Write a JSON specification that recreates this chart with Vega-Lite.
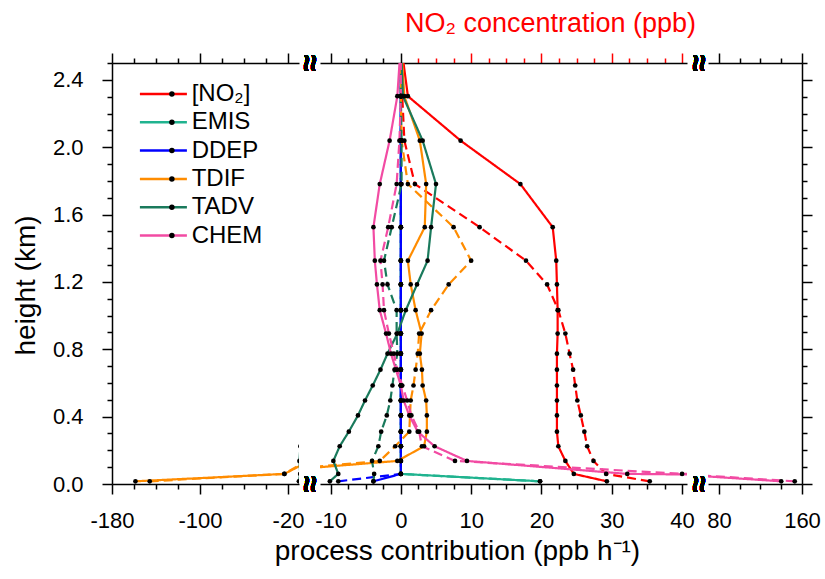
{
"$schema": "https://vega.github.io/schema/vega-lite/v6.json",
"background": "white",
"padding": {"left": 12, "top": 9, "right": 5, "bottom": 5},
"bounds": "flush",
"spacing": 21,
"data": {"values": [
{"p":"[NO₂]","c":"a","h":0.016,"x":29.3},{"p":"[NO₂]","c":"a","h":0.06,"x":24.6},{"p":"[NO₂]","c":"a","h":0.137,"x":23.4},{"p":"[NO₂]","c":"a","h":0.224,"x":22.4},{"p":"[NO₂]","c":"a","h":0.311,"x":22.2},{"p":"[NO₂]","c":"a","h":0.407,"x":22.2},{"p":"[NO₂]","c":"a","h":0.496,"x":22.2},{"p":"[NO₂]","c":"a","h":0.585,"x":22.2},{"p":"[NO₂]","c":"a","h":0.679,"x":22.2},{"p":"[NO₂]","c":"a","h":0.774,"x":22.2},{"p":"[NO₂]","c":"a","h":0.893,"x":22.3},{"p":"[NO₂]","c":"a","h":1.032,"x":22.3},{"p":"[NO₂]","c":"a","h":1.185,"x":22.2},{"p":"[NO₂]","c":"a","h":1.326,"x":22.1},{"p":"[NO₂]","c":"a","h":1.525,"x":21.6},{"p":"[NO₂]","c":"a","h":1.781,"x":17.0},{"p":"[NO₂]","c":"a","h":2.039,"x":8.5},{"p":"[NO₂]","c":"a","h":2.303,"x":1.0},{"p":"[NO₂]","c":"a","h":2.62,"x":0},
{"p":"[NO₂]","c":"b","h":0.016,"x":35.4},{"p":"[NO₂]","c":"b","h":0.06,"x":29.2},{"p":"[NO₂]","c":"b","h":0.137,"x":27.4},{"p":"[NO₂]","c":"b","h":0.224,"x":26.5},{"p":"[NO₂]","c":"b","h":0.311,"x":26.1},{"p":"[NO₂]","c":"b","h":0.407,"x":25.6},{"p":"[NO₂]","c":"b","h":0.496,"x":25.1},{"p":"[NO₂]","c":"b","h":0.585,"x":24.8},{"p":"[NO₂]","c":"b","h":0.679,"x":24.5},{"p":"[NO₂]","c":"b","h":0.774,"x":24.0},{"p":"[NO₂]","c":"b","h":0.893,"x":23.4},{"p":"[NO₂]","c":"b","h":1.032,"x":22.4},{"p":"[NO₂]","c":"b","h":1.185,"x":20.8},{"p":"[NO₂]","c":"b","h":1.326,"x":17.8},{"p":"[NO₂]","c":"b","h":1.525,"x":11.2},{"p":"[NO₂]","c":"b","h":1.781,"x":2.0},{"p":"[NO₂]","c":"b","h":2.039,"x":0.5},{"p":"[NO₂]","c":"b","h":2.303,"x":0.2},{"p":"[NO₂]","c":"b","h":2.62,"x":0},
{"p":"EMIS","c":"a","h":0.016,"x":19.8},{"p":"EMIS","c":"a","h":0.06,"x":0},{"p":"EMIS","c":"a","h":0.137,"x":0},{"p":"EMIS","c":"a","h":0.224,"x":0},{"p":"EMIS","c":"a","h":0.311,"x":0},{"p":"EMIS","c":"a","h":0.407,"x":0},{"p":"EMIS","c":"a","h":0.496,"x":0},{"p":"EMIS","c":"a","h":0.585,"x":0},{"p":"EMIS","c":"a","h":0.679,"x":0},{"p":"EMIS","c":"a","h":0.774,"x":0},{"p":"EMIS","c":"a","h":0.893,"x":0},{"p":"EMIS","c":"a","h":1.032,"x":0},{"p":"EMIS","c":"a","h":1.185,"x":0},{"p":"EMIS","c":"a","h":1.326,"x":0},{"p":"EMIS","c":"a","h":1.525,"x":0},{"p":"EMIS","c":"a","h":1.781,"x":0},{"p":"EMIS","c":"a","h":2.039,"x":0},{"p":"EMIS","c":"a","h":2.303,"x":0},{"p":"EMIS","c":"a","h":2.62,"x":0},
{"p":"EMIS","c":"b","h":0.016,"x":19.8},{"p":"EMIS","c":"b","h":0.06,"x":0},{"p":"EMIS","c":"b","h":0.137,"x":0},{"p":"EMIS","c":"b","h":0.224,"x":0},{"p":"EMIS","c":"b","h":0.311,"x":0},{"p":"EMIS","c":"b","h":0.407,"x":0},{"p":"EMIS","c":"b","h":0.496,"x":0},{"p":"EMIS","c":"b","h":0.585,"x":0},{"p":"EMIS","c":"b","h":0.679,"x":0},{"p":"EMIS","c":"b","h":0.774,"x":0},{"p":"EMIS","c":"b","h":0.893,"x":0},{"p":"EMIS","c":"b","h":1.032,"x":0},{"p":"EMIS","c":"b","h":1.185,"x":0},{"p":"EMIS","c":"b","h":1.326,"x":0},{"p":"EMIS","c":"b","h":1.525,"x":0},{"p":"EMIS","c":"b","h":1.781,"x":0},{"p":"EMIS","c":"b","h":2.039,"x":0},{"p":"EMIS","c":"b","h":2.303,"x":0},{"p":"EMIS","c":"b","h":2.62,"x":0},
{"p":"DDEP","c":"a","h":0.016,"x":-3.9},{"p":"DDEP","c":"a","h":0.06,"x":0},{"p":"DDEP","c":"a","h":0.137,"x":0},{"p":"DDEP","c":"a","h":0.224,"x":0},{"p":"DDEP","c":"a","h":0.311,"x":0},{"p":"DDEP","c":"a","h":0.407,"x":0},{"p":"DDEP","c":"a","h":0.496,"x":0},{"p":"DDEP","c":"a","h":0.585,"x":0},{"p":"DDEP","c":"a","h":0.679,"x":0},{"p":"DDEP","c":"a","h":0.774,"x":0},{"p":"DDEP","c":"a","h":0.893,"x":0},{"p":"DDEP","c":"a","h":1.032,"x":0},{"p":"DDEP","c":"a","h":1.185,"x":0},{"p":"DDEP","c":"a","h":1.326,"x":0},{"p":"DDEP","c":"a","h":1.525,"x":0},{"p":"DDEP","c":"a","h":1.781,"x":0},{"p":"DDEP","c":"a","h":2.039,"x":0},{"p":"DDEP","c":"a","h":2.303,"x":0},{"p":"DDEP","c":"a","h":2.62,"x":0},
{"p":"DDEP","c":"b","h":0.016,"x":-8.9},{"p":"DDEP","c":"b","h":0.06,"x":0},{"p":"DDEP","c":"b","h":0.137,"x":0},{"p":"DDEP","c":"b","h":0.224,"x":0},{"p":"DDEP","c":"b","h":0.311,"x":0},{"p":"DDEP","c":"b","h":0.407,"x":0},{"p":"DDEP","c":"b","h":0.496,"x":0},{"p":"DDEP","c":"b","h":0.585,"x":0},{"p":"DDEP","c":"b","h":0.679,"x":0},{"p":"DDEP","c":"b","h":0.774,"x":0},{"p":"DDEP","c":"b","h":0.893,"x":0},{"p":"DDEP","c":"b","h":1.032,"x":0},{"p":"DDEP","c":"b","h":1.185,"x":0},{"p":"DDEP","c":"b","h":1.326,"x":0},{"p":"DDEP","c":"b","h":1.525,"x":0},{"p":"DDEP","c":"b","h":1.781,"x":0},{"p":"DDEP","c":"b","h":2.039,"x":0},{"p":"DDEP","c":"b","h":2.303,"x":0},{"p":"DDEP","c":"b","h":2.62,"x":0},
{"p":"TDIF","c":"a","h":0.016,"x":-158.7},{"p":"TDIF","c":"a","h":0.06,"x":-23.3},{"p":"TDIF","c":"a","h":0.137,"x":-0.5},{"p":"TDIF","c":"a","h":0.224,"x":3.3},{"p":"TDIF","c":"a","h":0.311,"x":3.7},{"p":"TDIF","c":"a","h":0.407,"x":3.7},{"p":"TDIF","c":"a","h":0.496,"x":3.6},{"p":"TDIF","c":"a","h":0.585,"x":3.1},{"p":"TDIF","c":"a","h":0.679,"x":3.0},{"p":"TDIF","c":"a","h":0.774,"x":2.7},{"p":"TDIF","c":"a","h":0.893,"x":2.95},{"p":"TDIF","c":"a","h":1.032,"x":2.1},{"p":"TDIF","c":"a","h":1.185,"x":1.4},{"p":"TDIF","c":"a","h":1.326,"x":1.0},{"p":"TDIF","c":"a","h":1.525,"x":3.4},{"p":"TDIF","c":"a","h":1.781,"x":3.6},{"p":"TDIF","c":"a","h":2.039,"x":2.7},{"p":"TDIF","c":"a","h":2.303,"x":0.5},{"p":"TDIF","c":"a","h":2.62,"x":0},
{"p":"TDIF","c":"b","h":0.016,"x":-145.7},{"p":"TDIF","c":"b","h":0.06,"x":-23.3},{"p":"TDIF","c":"b","h":0.137,"x":-3.0},{"p":"TDIF","c":"b","h":0.224,"x":-0.8},{"p":"TDIF","c":"b","h":0.311,"x":1.2},{"p":"TDIF","c":"b","h":0.407,"x":1.3},{"p":"TDIF","c":"b","h":0.496,"x":1.4},{"p":"TDIF","c":"b","h":0.585,"x":1.8},{"p":"TDIF","c":"b","h":0.679,"x":2.1},{"p":"TDIF","c":"b","h":0.774,"x":2.4},{"p":"TDIF","c":"b","h":0.893,"x":2.6},{"p":"TDIF","c":"b","h":1.032,"x":4.3},{"p":"TDIF","c":"b","h":1.185,"x":6.8},{"p":"TDIF","c":"b","h":1.326,"x":10.0},{"p":"TDIF","c":"b","h":1.525,"x":7.5},{"p":"TDIF","c":"b","h":1.781,"x":1.0},{"p":"TDIF","c":"b","h":2.039,"x":0.1},{"p":"TDIF","c":"b","h":2.303,"x":0},{"p":"TDIF","c":"b","h":2.62,"x":0},
{"p":"TADV","c":"a","h":0.016,"x":-10.1},{"p":"TADV","c":"a","h":0.06,"x":-8.9},{"p":"TADV","c":"a","h":0.137,"x":-9.6},{"p":"TADV","c":"a","h":0.224,"x":-8.7},{"p":"TADV","c":"a","h":0.311,"x":-7.4},{"p":"TADV","c":"a","h":0.407,"x":-6.1},{"p":"TADV","c":"a","h":0.496,"x":-5.1},{"p":"TADV","c":"a","h":0.585,"x":-4.0},{"p":"TADV","c":"a","h":0.679,"x":-2.9},{"p":"TADV","c":"a","h":0.774,"x":-1.9},{"p":"TADV","c":"a","h":0.893,"x":-0.5},{"p":"TADV","c":"a","h":1.032,"x":0.7},{"p":"TADV","c":"a","h":1.185,"x":2.3},{"p":"TADV","c":"a","h":1.326,"x":3.8},{"p":"TADV","c":"a","h":1.525,"x":4.3},{"p":"TADV","c":"a","h":1.781,"x":5.0},{"p":"TADV","c":"a","h":2.039,"x":3.1},{"p":"TADV","c":"a","h":2.303,"x":0.3},{"p":"TADV","c":"a","h":2.62,"x":0},
{"p":"TADV","c":"b","h":0.016,"x":-3.9},{"p":"TADV","c":"b","h":0.06,"x":-3.8},{"p":"TADV","c":"b","h":0.137,"x":-4.1},{"p":"TADV","c":"b","h":0.224,"x":-3.2},{"p":"TADV","c":"b","h":0.311,"x":-2.8},{"p":"TADV","c":"b","h":0.407,"x":-2.0},{"p":"TADV","c":"b","h":0.496,"x":-1.5},{"p":"TADV","c":"b","h":0.585,"x":-1.2},{"p":"TADV","c":"b","h":0.679,"x":-0.9},{"p":"TADV","c":"b","h":0.774,"x":-0.5},{"p":"TADV","c":"b","h":0.893,"x":-0.6},{"p":"TADV","c":"b","h":1.032,"x":-0.6},{"p":"TADV","c":"b","h":1.185,"x":-1.9},{"p":"TADV","c":"b","h":1.326,"x":-2.4},{"p":"TADV","c":"b","h":1.525,"x":-1.3},{"p":"TADV","c":"b","h":1.781,"x":0.1},{"p":"TADV","c":"b","h":2.039,"x":0.1},{"p":"TADV","c":"b","h":2.303,"x":0},{"p":"TADV","c":"b","h":2.62,"x":0},
{"p":"CHEM","c":"a","h":0.016,"x":140},{"p":"CHEM","c":"a","h":0.06,"x":32.2},{"p":"CHEM","c":"a","h":0.137,"x":9.4},{"p":"CHEM","c":"a","h":0.224,"x":4.8},{"p":"CHEM","c":"a","h":0.311,"x":2.4},{"p":"CHEM","c":"a","h":0.407,"x":1.2},{"p":"CHEM","c":"a","h":0.496,"x":0.4},{"p":"CHEM","c":"a","h":0.585,"x":0.0},{"p":"CHEM","c":"a","h":0.679,"x":-0.7},{"p":"CHEM","c":"a","h":0.774,"x":-1.4},{"p":"CHEM","c":"a","h":0.893,"x":-2.1},{"p":"CHEM","c":"a","h":1.032,"x":-3.0},{"p":"CHEM","c":"a","h":1.185,"x":-3.4},{"p":"CHEM","c":"a","h":1.326,"x":-3.7},{"p":"CHEM","c":"a","h":1.525,"x":-3.9},{"p":"CHEM","c":"a","h":1.781,"x":-3.0},{"p":"CHEM","c":"a","h":2.039,"x":-1.6},{"p":"CHEM","c":"a","h":2.303,"x":-0.5},{"p":"CHEM","c":"a","h":2.62,"x":0},
{"p":"CHEM","c":"b","h":0.016,"x":153},{"p":"CHEM","c":"b","h":0.06,"x":40},{"p":"CHEM","c":"b","h":0.137,"x":7.7},{"p":"CHEM","c":"b","h":0.224,"x":3.0},{"p":"CHEM","c":"b","h":0.311,"x":2.6},{"p":"CHEM","c":"b","h":0.407,"x":1.5},{"p":"CHEM","c":"b","h":0.496,"x":0.9},{"p":"CHEM","c":"b","h":0.585,"x":0.2},{"p":"CHEM","c":"b","h":0.679,"x":-0.5},{"p":"CHEM","c":"b","h":0.774,"x":-1.0},{"p":"CHEM","c":"b","h":0.893,"x":-1.7},{"p":"CHEM","c":"b","h":1.032,"x":-2.4},{"p":"CHEM","c":"b","h":1.185,"x":-2.6},{"p":"CHEM","c":"b","h":1.326,"x":-2.9},{"p":"CHEM","c":"b","h":1.525,"x":-1.8},{"p":"CHEM","c":"b","h":1.781,"x":-0.6},{"p":"CHEM","c":"b","h":2.039,"x":-0.2},{"p":"CHEM","c":"b","h":2.303,"x":0},{"p":"CHEM","c":"b","h":2.62,"x":0}
]},
"config": {
  "font": "Liberation Sans",
  "view": {"stroke": null},
  "axis": {"domainColor": "black", "domainWidth": 1.5, "tickColor": "black", "tickWidth": 1.5, "labelFont": "Liberation Sans", "labelFontSize": 22, "labelColor": "black", "titleFont": "Liberation Sans", "titleFontSize": 28, "titleFontWeight": "normal", "titleColor": "black", "grid": false, "labelFlush": false, "labelOverlap": false},
  "legend": {"orient": "none", "legendX": 39.4, "legendY": 19, "title": null, "labelFont": "Liberation Sans", "labelFontSize": 24, "labelColor": "black", "rowPadding": 4.3, "padding": 0}
},
"hconcat": [
{
  "width": 187, "height": 421,
  "layer": [
    {"mark": {"type": "line", "clip": true, "strokeWidth": 2.2},
     "encoding": {
       "x": {"field": "x", "type": "quantitative", "scale": {"domain": [-180, -10], "nice": false, "zero": false},
             "axis": {"orient": "bottom", "title": null, "values": [-180,-160,-140,-120,-100,-80,-60,-40,-20],
                      "tickSize": {"condition": {"test": "datum.value==-180||datum.value==-100||datum.value==-20", "value": 10}, "value": 5},
                      "labelExpr": "(datum.value==-180||datum.value==-100||datum.value==-20)?(''+datum.value):''", "labelPadding": 16}},
       "y": {"field": "h", "type": "quantitative", "scale": {"domain": [0, 2.5], "nice": false},
             "axis": {"orient": "left", "title": "height (km)", "titlePadding": 12, "titleY": 222,
                      "values": [0,0.1,0.2,0.3,0.4,0.5,0.6,0.7,0.8,0.9,1.0,1.1,1.2,1.3,1.4,1.5,1.6,1.7,1.8,1.9,2.0,2.1,2.2,2.3,2.4,2.5],
                      "tickSize": {"condition": {"test": "round(datum.value*10)%4==0", "value": 10}, "value": 5},
                      "labelExpr": "round(datum.value*10)%4==0?format(datum.value,'.1f'):''", "labelPadding": 19}},
       "stroke": {"field": "p", "type": "nominal",
                  "scale": {"domain": ["[NO₂]","EMIS","DDEP","TDIF","TADV","CHEM"], "range": ["#ff0000","#20b38f","#0000ff","#ff8c00","#1a7a5c","#f24ba3"]},
                  "legend": {"symbolType": "M-2.35,0H2.35", "symbolSize": 400, "symbolStrokeWidth": 2.5, "symbolFillColor": "transparent", "labelOffset": 16.3}},
       "strokeDash": {"field": "c", "type": "nominal", "scale": {"domain": ["a","b"], "range": [[1,0],[9,5]]}, "legend": null},
       "order": {"field": "h", "type": "quantitative"}
     }},
    {"mark": {"type": "circle", "clip": true, "size": 22, "opacity": 1},
     "encoding": {
       "x": {"field": "x", "type": "quantitative",
             "axis": {"orient": "top", "title": null, "labels": false, "values": [-180,-160,-140,-120,-100,-80,-60,-40,-20],
                      "tickSize": {"condition": {"test": "datum.value==-180||datum.value==-100||datum.value==-20", "value": 10}, "value": 5}}},
       "y": {"field": "h", "type": "quantitative", "axis": null},
       "fill": {"field": "p", "type": "nominal", "sort": ["[NO₂]","EMIS","DDEP","TDIF","TADV","CHEM"],
                "scale": {"range": ["black","black","black","black","black","black"]},
                "legend": {"symbolType": "circle", "symbolSize": 30, "symbolStrokeWidth": 0, "symbolOffset": 8.5, "labelOpacity": 0}}
     }},
    {"mark": {"type": "text", "text": "≈", "font": "Liberation Sans", "fontSize": 30, "fontWeight": "bold", "angle": 90, "dx": 0, "dy": -10, "align": "center", "baseline": "middle"},
     "encoding": {"x": {"datum": -10, "type": "quantitative", "axis": null}, "y": {"datum": 0, "type": "quantitative", "axis": null}}},
    {"mark": {"type": "text", "text": "≈", "font": "Liberation Sans", "fontSize": 30, "fontWeight": "bold", "angle": 90, "dx": 0, "dy": -10, "align": "center", "baseline": "middle"},
     "encoding": {"x": {"datum": -10, "type": "quantitative", "axis": null}, "y": {"datum": 2.5, "type": "quantitative", "axis": null}}}
  ],
  "resolve": {"axis": {"x": "independent", "y": "independent"}}
},
{
  "width": 367, "height": 421,
  "layer": [
    {"mark": {"type": "line", "clip": true, "strokeWidth": 2.2},
     "encoding": {
       "x": {"field": "x", "type": "quantitative", "scale": {"domain": [-11.5, 40.7], "nice": false, "zero": false},
             "axis": {"orient": "bottom", "title": "process contribution (ppb h⁻¹)", "titleX": 137, "titlePadding": 6,
                      "values": [-10,-7.5,-5,-2.5,0,2.5,5,7.5,10,12.5,15,17.5,20,22.5,25,27.5,30,32.5,35,37.5,40],
                      "tickSize": {"condition": {"test": "datum.value%10==0", "value": 10}, "value": 5},
                      "labelExpr": "datum.value%10==0?(''+datum.value):''", "labelPadding": 16}},
       "y": {"field": "h", "type": "quantitative", "scale": {"domain": [0, 2.5], "nice": false}, "axis": null},
       "stroke": {"field": "p", "type": "nominal", "legend": null},
       "strokeDash": {"field": "c", "type": "nominal", "legend": null},
       "order": {"field": "h", "type": "quantitative"}
     }},
    {"mark": {"type": "circle", "clip": true, "size": 22, "opacity": 1},
     "encoding": {
       "x": {"field": "x", "type": "quantitative",
             "axis": {"orient": "top", "title": "NO₂ concentration (ppb)", "titleColor": "#ff0000", "titleFontSize": 27, "titleX": 230, "titlePadding": 15, "labels": false,
                      "values": [-10,-7.5,-5,-2.5,0,2.5,5,7.5,10,12.5,15,17.5,20,22.5,25,27.5,30,32.5,35,37.5,40],
                      "tickSize": {"condition": {"test": "datum.value%10==0", "value": 10}, "value": 5},
                      "tickColor": {"condition": {"test": "datum.value>0", "value": "#ff0000"}, "value": "black"}}},
       "y": {"field": "h", "type": "quantitative", "axis": null},
       "fill": {"field": "p", "type": "nominal", "legend": null}
     }},
    {"mark": {"type": "text", "text": "≈", "font": "Liberation Sans", "fontSize": 30, "fontWeight": "bold", "angle": 90, "dx": 0, "dy": -11, "align": "center", "baseline": "middle"},
     "encoding": {"x": {"datum": 40.7, "type": "quantitative", "axis": null}, "y": {"datum": 0, "type": "quantitative", "axis": null}}},
    {"mark": {"type": "text", "text": "≈", "font": "Liberation Sans", "fontSize": 30, "fontWeight": "bold", "angle": 90, "dx": 0, "dy": -11, "align": "center", "baseline": "middle"},
     "encoding": {"x": {"datum": 40.7, "type": "quantitative", "axis": null}, "y": {"datum": 2.5, "type": "quantitative", "axis": null}}}
  ],
  "resolve": {"axis": {"x": "independent", "y": "independent"}}
},
{
  "width": 94, "height": 421,
  "layer": [
    {"mark": {"type": "line", "clip": true, "strokeWidth": 2.2},
     "encoding": {
       "x": {"field": "x", "type": "quantitative", "scale": {"domain": [69.5, 160], "nice": false, "zero": false},
             "axis": {"orient": "bottom", "title": null, "values": [80,100,120,140,160],
                      "tickSize": {"condition": {"test": "datum.value==80||datum.value==160", "value": 10}, "value": 5},
                      "labelExpr": "(datum.value==80||datum.value==160)?(''+datum.value):''", "labelPadding": 16}},
       "y": {"field": "h", "type": "quantitative", "scale": {"domain": [0, 2.5], "nice": false}, "axis": null},
       "stroke": {"field": "p", "type": "nominal", "legend": null},
       "strokeDash": {"field": "c", "type": "nominal", "legend": null},
       "order": {"field": "h", "type": "quantitative"}
     }},
    {"mark": {"type": "circle", "clip": true, "size": 22, "opacity": 1},
     "encoding": {
       "x": {"field": "x", "type": "quantitative",
             "axis": {"orient": "top", "title": null, "labels": false, "values": [80,100,120,140,160],
                      "tickSize": {"condition": {"test": "datum.value==80||datum.value==160", "value": 10}, "value": 5}}},
       "y": {"field": "h", "type": "quantitative",
             "axis": {"orient": "right", "title": null, "labels": false,
                      "values": [0,0.1,0.2,0.3,0.4,0.5,0.6,0.7,0.8,0.9,1.0,1.1,1.2,1.3,1.4,1.5,1.6,1.7,1.8,1.9,2.0,2.1,2.2,2.3,2.4,2.5],
                      "tickSize": {"condition": {"test": "round(datum.value*10)%4==0", "value": 10}, "value": 5}}},
       "fill": {"field": "p", "type": "nominal", "legend": null}
     }}
  ],
  "resolve": {"axis": {"x": "independent", "y": "independent"}}
}
]
}
